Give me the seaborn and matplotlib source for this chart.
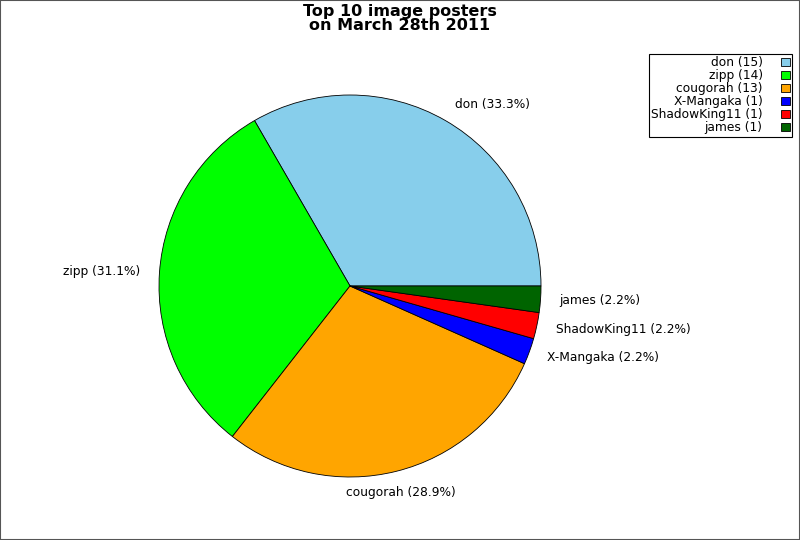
import matplotlib
matplotlib.use("Agg")
import matplotlib.pyplot as plt
import seaborn as sns
from matplotlib.patches import Rectangle

# data
posters = ["don", "zipp", "cougorah", "X-Mangaka", "ShadowKing11", "james"]
counts = [15, 14, 13, 1, 1, 1]
colors = ["#87ceeb", "#00ff00", "#ffa500", "#0000ff", "#ff0000", "#006400"]

sns.set_theme(style="white")
plt.rcParams["font.family"] = ["DejaVu Sans"]
plt.rcParams["text.color"] = "black"

fig = plt.figure(figsize=(8, 5.4), dpi=100)
ax = fig.add_axes([0.19875, 0.11667, 0.4775, 0.7074])

total = sum(counts)
labels = [f"{p} ({c / total * 100:.1f}%)" for p, c in zip(posters, counts)]

wedges, texts = ax.pie(
    counts,
    labels=labels,
    colors=colors,
    startangle=0,
    counterclock=True,
    labeldistance=1.1,
    radius=1,
    wedgeprops=dict(edgecolor="black", linewidth=0.6),
    textprops=dict(fontsize=8.8, color="black"),
)
# bottom label is centred under its slice in the original
texts[2].set_ha("center")
texts[2].set_y(texts[2].get_position()[1] - 0.015)
ax.set_xlim(-1, 1)
ax.set_ylim(-1, 1)
ax.set_aspect("auto")

fig.suptitle("Top 10 image posters\non March 28th 2011", y=0.993,
             fontsize=11.5, fontweight="bold", linespacing=0.95, color="black")

leg_labels = [f"{p} ({c})" for p, c in zip(posters, counts)]
leg = fig.legend(wedges, leg_labels, loc="upper right",
                 bbox_to_anchor=(792 / 800, 1 - 54 / 540),
                 markerfirst=False, fontsize=8.8, frameon=True,
                 fancybox=False, edgecolor="black", framealpha=1,
                 borderpad=0.2, labelspacing=0.0, handlelength=0.7,
                 handleheight=0.65, handletextpad=1.5, borderaxespad=0)
leg.get_frame().set_linewidth(0.8)
for t in leg.get_texts():
    t.set_ha("right")
    t.set_color("black")

fig.patches.append(Rectangle((0, 0), 1, 1, transform=fig.transFigure,
                             fill=False, edgecolor="#555555", linewidth=1.5))

fig.savefig("out.png", dpi=100)
